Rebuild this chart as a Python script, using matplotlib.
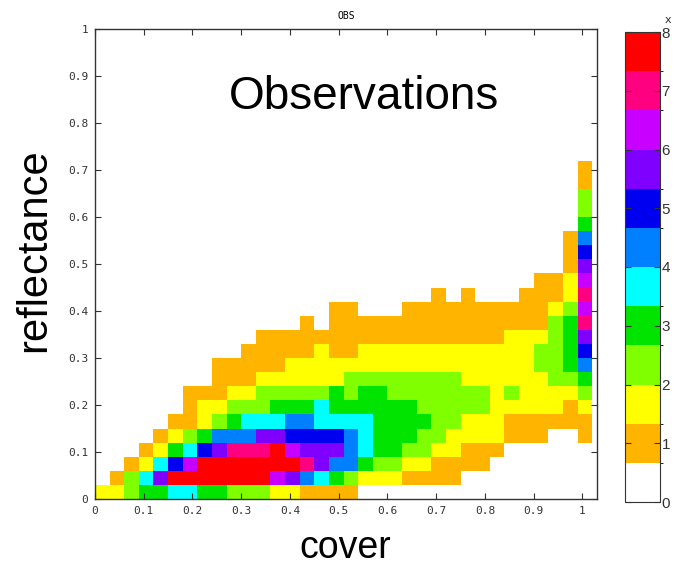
import numpy as np
import matplotlib
matplotlib.use('Agg')
import matplotlib.pyplot as plt
from matplotlib.colors import ListedColormap, BoundaryNorm
from matplotlib.font_manager import FontProperties

# histogram bins (width 0.03 in both directions)
cover_edges = np.round(np.arange(35) * 0.03, 2)   # 34 columns, 0 .. 1.02
refl_edges = np.round(np.arange(25) * 0.03, 2)    # 24 rows, 0 .. 0.72

# colour band of every cell, top row first (reflectance 0.69-0.72 down to 0-0.03)
band_rows = [
    ".................................o",
    ".................................o",
    ".................................l",
    ".................................l",
    ".................................g",
    "................................oa",
    "................................ob",
    "................................ov",
    "..............................ooym",
    ".......................o.o...oooyp",
    "................oo...ooooooooooylm",
    "..............o.ooooooooooooooolgp",
    "...........oooooooooooooooooyyylgv",
    "..........oooooyooyyyyyyyyyyyyllgb",
    "........oooooyyyyyyyyyyyyyyyyyllga",
    "........oooyyyyyyllllllllyyyyyyllg",
    "......oooyylllllglgglllllllylyyyyl",
    "......oyylllgggcgggggglllllyyyyyoy",
    ".....ooylgcccaaccccggggllyyyoooooo",
    "....oylgaaavvbbbbacgggllyyyyooo..o",
    "...oygcbvppprmvvvacggllyyooo......",
    "..oycbmrrrrrrrpvaagllyyoooo.......",
    ".olcvrrrrrrrmvacglyyyoooo.........",
    "yylggccgglllyyoooo................",
]

# value at the centre of each colour band of the colour bar
band_value = {'.': 0.0, 'o': 1.0, 'y': 1.67, 'l': 2.33, 'g': 3.0, 'c': 3.67,
              'a': 4.33, 'b': 5.0, 'v': 5.67, 'm': 6.33, 'p': 7.0, 'r': 7.67}

band_colors = ['#FFFFFF', '#FFB400', '#FFFF00', '#80FF00', '#00E400', '#00FFFF',
               '#0080FF', '#0000F0', '#8000FF', '#C800FF', '#FF0080', '#FF0000']
cbar_ticks = [0, 1, 2, 3, 4, 5, 6, 7, 8]
axis_ticks = [0, 0.1, 0.2, 0.3, 0.4, 0.5, 0.6, 0.7, 0.8, 0.9, 1]
axis_labels = ['0', '0.1', '0.2', '0.3', '0.4', '0.5', '0.6', '0.7', '0.8', '0.9', '1']

counts = np.array([[band_value[c] for c in row] for row in band_rows[::-1]])

cmap = ListedColormap(band_colors)
norm = BoundaryNorm(np.linspace(0, 8, 13), cmap.N)

fig = plt.figure(figsize=(6.74, 5.75), dpi=100)
ax = fig.add_axes([95 / 674, 76 / 575, 502 / 674, 470 / 575])
mesh = ax.pcolormesh(cover_edges, refl_edges, counts, cmap=cmap, norm=norm)

ax.set_xlim(0, 1.03)
ax.set_ylim(0, 1)
ax.set_xticks(axis_ticks)
ax.set_xticklabels(axis_labels)
ax.set_yticks(axis_ticks)
ax.set_yticklabels(axis_labels)
mono = FontProperties(family='DejaVu Sans Mono', size=8)
for lab in ax.get_xticklabels() + ax.get_yticklabels():
    lab.set_fontproperties(mono)
    lab.set_color('#333333')
ax.tick_params(direction='in', top=True, right=True, length=4, width=0.8,
               color='#333333', pad=5)
for sp in ax.spines.values():
    sp.set_color('#333333')
    sp.set_linewidth(1.0)

ax.set_title('OBS', fontsize=7, family='DejaVu Sans Mono', pad=7)
ax.text((364 - 95) / 502, (499 - 97) / 470, 'Observations', transform=ax.transAxes,
        ha='center', va='center', fontsize=33, family='Liberation Sans')
fig.text(345 / 674, 1 - 548 / 575, 'cover', ha='center', va='center',
         fontsize=27, family='Liberation Sans')
fig.text(34 / 674, 1 - 250 / 575, 'reflectance', ha='center', va='center',
         rotation=90, fontsize=30, family='Liberation Sans')

cax = fig.add_axes([625 / 674, 73 / 575, 35 / 674, 470 / 575])
cb = fig.colorbar(mesh, cax=cax, ticks=cbar_ticks)
cb.ax.tick_params(direction='in', left=True, right=True, length=4, width=0.8,
                  color='#333333', labelsize=11, pad=1)
for lab in cb.ax.get_yticklabels():
    lab.set_family('Liberation Sans')
    lab.set_color('#333333')
cb.outline.set_edgecolor('#333333')
fig.text(668 / 674, 1 - 20 / 575, 'x', fontsize=8, ha='center', va='center', color='#333333')

fig.savefig('out.png', dpi=100)
